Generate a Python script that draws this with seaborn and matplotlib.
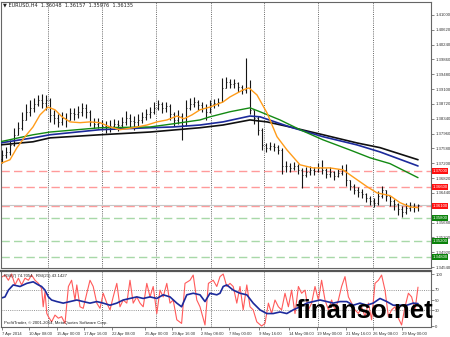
import matplotlib
matplotlib.use("Agg")
import matplotlib.pyplot as plt
import matplotlib.transforms as mtransforms
import seaborn as sns

# ---------------- data ----------------
bar_t = list(range(105))
close = [1.3742,1.3749,1.3767,1.3793,1.3811,1.3831,1.3852,1.3862,1.3872,1.3882,
         1.3875,1.3882,1.3844,1.3836,1.3826,1.3836,1.3831,1.3849,1.3847,1.3852,
         1.3862,1.3852,1.3826,1.3821,1.3824,1.3816,1.3813,1.3816,1.3821,1.3818,
         1.3826,1.3836,1.3829,1.3826,1.3831,1.3839,1.3847,1.3852,1.3862,1.3872,
         1.3862,1.3867,1.3847,1.3831,1.3841,1.3818,1.3862,1.3872,1.3877,1.3870,
         1.3862,1.3852,1.3872,1.3875,1.3877,1.3913,1.3928,1.3923,1.3926,1.3916,
         1.3908,1.3913,1.3857,1.3836,1.3806,1.3767,1.3760,1.3765,1.3762,1.3754,
         1.3713,1.3713,1.3708,1.3713,1.3703,1.3690,1.3698,1.3703,1.3701,1.3708,
         1.3703,1.3693,1.3698,1.3688,1.3696,1.3703,1.3678,1.3662,1.3652,1.3647,
         1.3642,1.3632,1.3624,1.3619,1.3637,1.3652,1.3637,1.3624,1.3616,1.3603,
         1.3596,1.3606,1.3611,1.3608,1.36135]
high = [1.3754,1.3762,1.3780,1.3811,1.3826,1.3852,1.3872,1.3882,1.3888,1.3895,
        1.3898,1.3895,1.3888,1.3857,1.3847,1.3852,1.3849,1.3862,1.3862,1.3867,
        1.3875,1.3872,1.3857,1.3836,1.3836,1.3831,1.3829,1.3831,1.3834,1.3831,
        1.3839,1.3854,1.3847,1.3841,1.3847,1.3852,1.3859,1.3864,1.3877,1.3882,
        1.3877,1.3877,1.3872,1.3852,1.3857,1.3849,1.3882,1.3888,1.3890,1.3882,
        1.3877,1.3872,1.3882,1.3885,1.3888,1.3939,1.3941,1.3936,1.3936,1.3928,
        1.3921,1.3990,1.3934,1.3857,1.3841,1.3811,1.3772,1.3775,1.3772,1.3767,
        1.3760,1.3726,1.3721,1.3724,1.3719,1.3708,1.3711,1.3713,1.3711,1.3721,
        1.3729,1.3708,1.3711,1.3701,1.3706,1.3716,1.3719,1.3678,1.3667,1.3660,
        1.3655,1.3644,1.3637,1.3632,1.3649,1.3662,1.3652,1.3637,1.3629,1.3619,
        1.3611,1.3619,1.3621,1.3619,1.36157]
low = [1.3721,1.3734,1.3742,1.3765,1.3793,1.3806,1.3831,1.3841,1.3852,1.3867,
       1.3862,1.3857,1.3826,1.3821,1.3813,1.3818,1.3813,1.3831,1.3831,1.3836,
       1.3841,1.3836,1.3816,1.3811,1.3811,1.3806,1.3798,1.3800,1.3808,1.3803,
       1.3811,1.3818,1.3813,1.3806,1.3816,1.3824,1.3831,1.3836,1.3847,1.3857,
       1.3849,1.3852,1.3831,1.3816,1.3821,1.3780,1.3816,1.3857,1.3864,1.3857,
       1.3852,1.3831,1.3848,1.3862,1.3867,1.3877,1.3913,1.3913,1.3913,1.3903,
       1.3898,1.3900,1.3847,1.3821,1.3793,1.3754,1.3749,1.3754,1.3752,1.3744,
       1.3693,1.3698,1.3698,1.3703,1.3693,1.3657,1.3685,1.3690,1.3690,1.3698,
       1.3693,1.3683,1.3685,1.3678,1.3685,1.3690,1.3662,1.3652,1.3642,1.3634,
       1.3632,1.3621,1.3614,1.3608,1.3614,1.3632,1.3624,1.3611,1.3601,1.3588,
       1.3583,1.3591,1.3598,1.3596,1.35976]
first_open = 1.3730

ma_fast_t = [-0.5,2,3.75,5.75,7.75,9.5,11.5,13.25,15,17,19.5,22,24.5,27,29.5,32.75,
             36.25,38.75,41.25,43.75,45.5,47.5,49.5,52,55.25,57,60.25,61.75,63.75,
             66.25,68.75,71.25,74.5,77.75,82,85.25,87.75,91.25,93.75,97,99.5,102,104]
ma_fast = [1.3719,1.3729,1.3760,1.3788,1.3813,1.3844,1.3864,1.3857,1.3839,1.3826,
           1.3824,1.3826,1.3824,1.3813,1.3806,1.3811,1.3818,1.3826,1.3831,1.3841,
           1.3834,1.3844,1.3857,1.3864,1.3877,1.3890,1.3908,1.3913,1.3895,1.3849,
           1.3788,1.3754,1.3716,1.3708,1.3708,1.3703,1.3685,1.3660,1.3644,1.3637,
           1.3619,1.3608,1.3606]
ma_green_t = [-0.5,7.75,12,24.5,37,42.75,49.5,52,57,62,64.5,69.5,74.5,80.25,87,92,97,104]
ma_green = [1.3775,1.3793,1.3800,1.3811,1.3813,1.3821,1.3831,1.3839,1.3852,1.3862,
            1.3852,1.3831,1.3806,1.3780,1.3754,1.3734,1.3719,1.3683]
ma_blue_t = [-0.5,7.75,12,24.5,37,42.75,49.5,55.25,62,64.5,72,80.25,88.75,94.5,104]
ma_blue = [1.3772,1.3785,1.3793,1.3806,1.3811,1.3813,1.3818,1.3826,1.3841,1.3839,
           1.3813,1.3788,1.3767,1.3749,1.3713]
ma_black_t = [-0.5,7.75,12,24.5,37,49.5,55.25,62,66.25,72,80.25,88.75,94.5,104]
ma_black = [1.3767,1.3775,1.3785,1.3793,1.3800,1.3811,1.3818,1.3831,1.3826,1.3813,
            1.3793,1.3772,1.3760,1.3729]

levels_res = [1.3700, 1.3660, 1.3610]
levels_sup = [1.3580, 1.3520, 1.3480]
bid = 1.36135
price_ticks = [1.41000,1.40620,1.40240,1.39860,1.39480,1.39100,1.38720,1.38340,1.37960,
               1.37580,1.37200,1.36820,1.36440,1.35680,1.35300,1.34920,1.34540]

rsi_t = [-0.5,0.75,1.6,2.4,3.25,4.1,4.9,5.75,6.6,7.4,8.25,9.1,9.9,10.3,10.75,11.2,11.6,
         12.4,13.25,14.1,14.9,15.75,16.6,17.4,18.25,18.7,19.5,20.3,21.2,22,22.8,23.7,
         24.5,25.3,26.2,27,27.8,28.7,29.5,30.3,31.2,32,32.8,33.7,34.5,35.3,36.2,37,
         37.8,38.7,39.5,40.3,41.2,42,42.8,43.7,44.9,45.75,47,47.8,48.7,49.5,50.75,
         51.6,52.8,53.7,54.5,55.3,56.2,57,57.8,58.7,59.5,60.3,61.2,62,62.8,63.7,64.9,
         65.75,66.6,67.4,68.25,69.1,69.9,70.75,71.6,72.4,73.25,74.1,74.9,75.75,76.6,
         77.4,78.25,79.1,79.9,80.75,81.6,82.4,83.25,84.1,84.9,85.75,86.6,87.4,88.25,
         89.1,89.9,90.75,91.6,92.4,93.25,94.1,94.9,95.75,96.6,97.4,98.25,99.1,99.9,
         100.75,101.6,102.4,103.25,104]
rsi = [92,98,88,100,79,92,79,92,88,98,88,82,72,37,66,24,18,8,21,15,18,5,76,88,50,79,
       37,34,63,88,76,44,34,63,44,31,56,82,37,50,44,88,44,56,44,37,82,56,76,24,69,56,
       82,44,50,12,5,82,88,98,50,37,2,82,88,76,95,100,76,82,76,44,76,31,79,37,31,8,0,
       5,44,24,50,37,31,63,37,69,24,76,63,69,31,44,76,50,88,50,31,50,31,50,76,95,56,
       44,31,24,37,18,44,12,82,88,98,69,18,31,37,15,2,37,63,56,31,74.7]
rsi_ma_t = [-0.5,0.75,1.6,2.8,4.5,6.2,7.8,9.1,9.9,10.75,11.6,12.4,13.7,15.3,17,18.7,
            20.3,22,23.7,25.3,27,28.7,30.3,32,33.7,35.3,37,38.7,40.3,42,43.7,44.9,46.2,
            47.8,49.5,50.75,52,53.7,54.5,55.3,56.2,57.8,59.5,61.2,62.8,64.5,66.2,67.8,
            69.5,71.2,72.8,74.5,76.2,77.8,79.5,81.2,82.8,84.5,86.2,87.8,89.5,91.2,92.8,
            94.5,96.2,97.8,99.5,101.2,102.8,104]
rsi_ma = [53,56,69,79,76,82,85,79,76,69,56,50,47,44,47,50,47,44,47,44,40,44,50,53,56,
          53,56,53,60,56,44,37,60,63,60,47,63,60,63,76,79,69,63,60,44,31,24,24,27,24,
          31,37,44,47,50,47,44,47,47,40,44,40,44,53,47,40,40,40,44,43.1]
rsi_ticks = [0, 30, 50, 70, 100]

date_ticks = [0.1,6.75,13.75,20.5,27.5,35.75,42.5,49.75,56.75,64.25,71.75,78.75,86,92.75,100]
date_labels = ["7 Apr 2014","10 Apr 08:00","15 Apr 00:00","17 Apr 16:00","22 Apr 08:00",
               "25 Apr 00:00","29 Apr 16:00","2 May 08:00","7 May 00:00","9 May 16:00",
               "14 May 08:00","19 May 00:00","21 May 16:00","26 May 08:00","29 May 00:00"]
grid_t = [11.5, 25, 38.5, 52.25, 65.5, 79, 92.75]

# ---------------- figure ----------------
sns.set_theme(style="white")
plt.rcParams['font.family'] = ['Liberation Sans', 'DejaVu Sans']
W, H = 450, 337
SMALL = 3.1
fig = plt.figure(figsize=(W / 100, H / 100), dpi=100)
ax = fig.add_axes([1 / W, (H - 268) / H, 430 / W, 266 / H])
ax2 = fig.add_axes([1 / W, (H - 327) / H, 430 / W, 56 / H])
xlim = (-0.25, 107.25)

# grid verticals
for a in (ax, ax2):
    for g in grid_t:
        a.axvline(g, color='#555555', lw=0.6, ls=(0, (1.2, 1.4)), zorder=0)

# levels
for lv in levels_res:
    ax.axhline(lv, color='#ff9a9a', lw=1.0, ls=(0, (6, 3)), zorder=1)
for lv in levels_sup:
    ax.axhline(lv, color='#a8d8a8', lw=1.0, ls=(0, (6, 3)), zorder=1)
ax.axhline(bid, color='#c8c8c8', lw=0.8, zorder=1)

# OHLC bars
opens = [first_open] + close[:-1]
ax.vlines(bar_t, low, high, color='#151515', lw=0.8, zorder=3)
ax.hlines(opens, [t - 0.3 for t in bar_t], bar_t, color='#151515', lw=0.6, zorder=3)
ax.hlines(close, bar_t, [t + 0.3 for t in bar_t], color='#151515', lw=0.6, zorder=3)

# moving averages
sns.lineplot(x=ma_black_t, y=ma_black, ax=ax, color='#101010', lw=1.2, zorder=4, legend=False)
sns.lineplot(x=ma_blue_t, y=ma_blue, ax=ax, color='#1c2a9c', lw=1.2, zorder=4, legend=False)
sns.lineplot(x=ma_green_t, y=ma_green, ax=ax, color='#138a13', lw=1.0, zorder=4, legend=False)
sns.lineplot(x=ma_fast_t, y=ma_fast, ax=ax, color='#ff9c1a', lw=1.0, zorder=5, legend=False)

ax.set_xlim(*xlim)
ax.set_ylim(1.41 - 253 / 3901, 1.41 + 13 / 3901)
ax.yaxis.tick_right()
ax.set_yticks(price_ticks)
ax.set_yticklabels([f"{v:.5f}" for v in price_ticks])
ax.tick_params(axis='y', labelsize=SMALL, labelcolor='#333333', length=2, width=0.5,
               color='#555555', pad=1.0, right=True)
ax.set_xticks([])
ax.set_xlabel(''); ax.set_ylabel('')
for s in ax.spines.values():
    s.set_color('#666666'); s.set_linewidth(0.8)

trans = mtransforms.blended_transform_factory(ax.transAxes, ax.transData)
for lv in levels_res:
    ax.text(1.0035, lv, f"{lv:.5f}", transform=trans, fontsize=SMALL, color='white',
            ha='left', va='center', zorder=10,
            bbox=dict(boxstyle='square,pad=0.2', facecolor='#ff1010', edgecolor='none'))
for lv in levels_sup:
    ax.text(1.0035, lv, f"{lv:.5f}", transform=trans, fontsize=SMALL, color='white',
            ha='left', va='center', zorder=10,
            bbox=dict(boxstyle='square,pad=0.2', facecolor='#0a820a', edgecolor='none'))

# RSI panel
ax2.axhline(70, color='#888888', lw=0.6, ls=(0, (1.2, 1.4)))
ax2.axhline(30, color='#888888', lw=0.6, ls=(0, (1.2, 1.4)))
sns.lineplot(x=rsi_t, y=rsi, ax=ax2, color='#ff5a5a', lw=0.8, legend=False)
sns.lineplot(x=rsi_ma_t, y=rsi_ma, ax=ax2, color='#1c2a9c', lw=1.2, legend=False)
ax2.set_xlim(*xlim)
ax2.set_ylim(-1.9, 105.8)
ax2.yaxis.tick_right()
ax2.set_yticks(rsi_ticks)
ax2.set_yticklabels([str(v) for v in rsi_ticks])
ax2.tick_params(axis='y', labelsize=SMALL, labelcolor='#333333', length=2, width=0.5,
                color='#555555', pad=1.0)
ax2.set_xticks(date_ticks)
ax2.set_xticklabels(date_labels, ha='left')
ax2.tick_params(axis='x', labelsize=2.95, labelcolor='#333333', length=2, width=0.5,
                color='#555555', pad=1.5, bottom=True)
ax2.set_xlabel(''); ax2.set_ylabel('')
for s in ax2.spines.values():
    s.set_color('#666666'); s.set_linewidth(0.8)
ax2.spines['top'].set_color('#555555'); ax2.spines['top'].set_linewidth(1.6)

# texts
fig.text(3 / W, 1 - 5 / H, "\u25BC EURUSD,H4  1.36048  1.36157  1.35976  1.36135",
         fontsize=3.6, color='#222222', ha='left', va='center',
         family=['DejaVu Sans'])
fig.text(4 / W, 1 - 276 / H, "RSI(7) 74.7054   RSI(21) 43.1427",
         fontsize=SMALL, color='#222222', ha='left', va='center')
fig.text(4 / W, 1 - 323 / H, "ProfitTrader, \u00A9 2001-2014, MetaQuotes Software Corp.",
         fontsize=SMALL, color='#222222', ha='left', va='center')
fig.text(296 / W, 1 - 318 / H, "finanso.net", fontsize=18.5, fontweight='bold',
         family=['Liberation Sans', 'DejaVu Sans'], color='black', ha='left', va='baseline',
         zorder=20)

fig.savefig("out.png", dpi=100)
